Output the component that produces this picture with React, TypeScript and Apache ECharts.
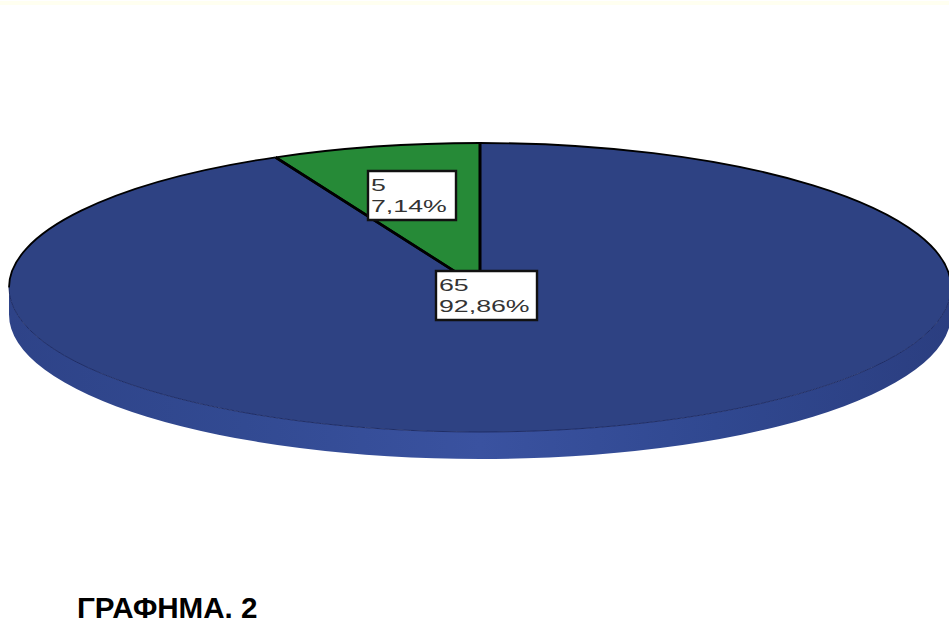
import React, { useEffect, useRef } from "react";
import * as echarts from "echarts";

// Case counts per group, clockwise from twelve o'clock.
const sliceValues = [65, 5];
const sliceColors = ["#2e4283", "#268a37"];
const chartTitle = "ΓΡΑΦΗΜΑ. 2";

// Disc geometry: an ellipse with a shallow extruded rim.
const CX = 480;
const CY = 287.5;
const RX = 471;
const RY = 144.5;
const DEPTH = 27;

// Where each value box sits, [left, top, width, height].
const labelBoxes = [
  [436, 271, 101, 49],
  [368, 171, 88, 49],
];

const total = sliceValues.reduce((a, b) => a + b, 0);

const pointAt = (deg: number, dy = 0) => {
  const t = (deg * Math.PI) / 180;
  return [CX + RX * Math.sin(t), CY - RY * Math.cos(t) + dy];
};

const arcTo = (from: number, to: number, dy = 0) => {
  const [x, y] = pointAt(to, dy);
  const large = Math.abs(to - from) > 180 ? 1 : 0;
  const sweep = to > from ? 1 : 0;
  return `A${RX} ${RY} 0 ${large} ${sweep} ${x} ${y}`;
};

const arcPath = (from: number, to: number) => {
  const [x, y] = pointAt(from);
  return `M${x} ${y}${arcTo(from, to)}`;
};

const formatLabel = (v: number) =>
  `${v}\n${((v / total) * 100).toFixed(2).replace(".", ",")}%`;

const renderSlice = (params: any, api: any) => {
  const i = params.dataIndex;
  const value = api.value(0);
  const before = sliceValues.slice(0, i).reduce((a, b) => a + b, 0);
  const start = (before / total) * 360;
  const end = ((before + value) / total) * 360;
  const children: any[] = [];

  // Rim below the disc, only where the slice faces the viewer.
  const r0 = Math.max(start, 90);
  const r1 = Math.min(end, 270);
  if (r1 > r0) {
    const [ax, ay] = pointAt(r0);
    const [bx, by] = pointAt(r1, DEPTH);
    children.push({
      type: "path",
      z2: 1,
      shape: {
        pathData: `M${ax} ${ay}${arcTo(r0, r1)}L${bx} ${by}${arcTo(r1, r0, DEPTH)}Z`,
      },
      style: {
        fill: new echarts.graphic.LinearGradient(1, 0, 0, 0, [
          { offset: 0, color: "#2b3e80" },
          { offset: 0.25, color: "#304890" },
          { offset: 0.5, color: "#3a52a0" },
          { offset: 0.75, color: "#324a92" },
          { offset: 1, color: "#2e4388" },
        ]),
      },
    });
  }

  // Top face of the slice.
  const [sx, sy] = pointAt(start);
  children.push({
    type: "path",
    z2: 2,
    shape: { pathData: `M${CX} ${CY}L${sx} ${sy}${arcTo(start, end)}Z` },
    style: { fill: sliceColors[i] },
  });

  // Outline: black across the far half of the disc, faint blue across the near half.
  const farEdges: [number, number][] = [
    [start, Math.min(end, 90)],
    [Math.max(start, 270), end],
  ];
  farEdges
    .filter(([a, b]) => b > a)
    .forEach(([a, b]) =>
      children.push({
        type: "path",
        z2: 4,
        shape: { pathData: arcPath(a, b) },
        style: { fill: "none", stroke: "#000", lineWidth: 1.8 },
      })
    );
  if (r1 > r0) {
    children.push({
      type: "path",
      z2: 3,
      shape: { pathData: arcPath(r0, r1) },
      style: { fill: "none", stroke: "#1f2d66", lineWidth: 1 },
    });
  }

  // Dividing lines between the slices.
  [start, end].forEach((deg) => {
    const [x, y] = pointAt(deg);
    children.push({
      type: "line",
      z2: 5,
      shape: { x1: CX, y1: CY, x2: x, y2: y },
      style: { stroke: "#000", lineWidth: 2.6 },
    });
  });

  // Value box.
  const [left, top, width, height] = labelBoxes[i];
  children.push({
    type: "rect",
    z2: 10,
    shape: { x: left, y: top, width, height },
    style: { fill: "#fff", stroke: "#111", lineWidth: 2.4 },
  });
  children.push({
    type: "text",
    z2: 11,
    x: left + 3,
    y: top + 4,
    scaleX: 1.62,
    style: {
      text: formatLabel(value),
      fontFamily: "Liberation Sans",
      fontSize: 16.5,
      lineHeight: 21,
      fill: "#333",
      align: "left",
      verticalAlign: "top",
    },
  });

  return { type: "group", children };
};

export default function App() {
  const ref = useRef<HTMLDivElement>(null);

  useEffect(() => {
    document.body.style.margin = "0";
    const chart = echarts.init(ref.current!, null, { renderer: "svg" });
    chart.setOption({
      animation: false,
      backgroundColor: "#fff",
      title: {
        text: chartTitle,
        left: 77,
        top: 592,
        padding: 0,
        textStyle: {
          fontFamily: "Liberation Sans",
          fontSize: 29.6,
          fontWeight: "bold",
          color: "#000",
        },
      },
      graphic: [
        {
          type: "rect",
          left: 0,
          top: 1,
          shape: { x: 0, y: 0, width: 949, height: 4 },
          style: { fill: "#fffff0" },
        },
      ],
      series: [
        {
          type: "custom",
          coordinateSystem: "none",
          data: sliceValues.map((v) => [v]),
          renderItem: renderSlice,
          silent: true,
        },
      ],
    });
    return () => chart.dispose();
  }, []);

  return (
    <div
      ref={ref}
      style={{ position: "absolute", left: 0, top: 0, width: 949, height: 623 }}
    />
  );
}
